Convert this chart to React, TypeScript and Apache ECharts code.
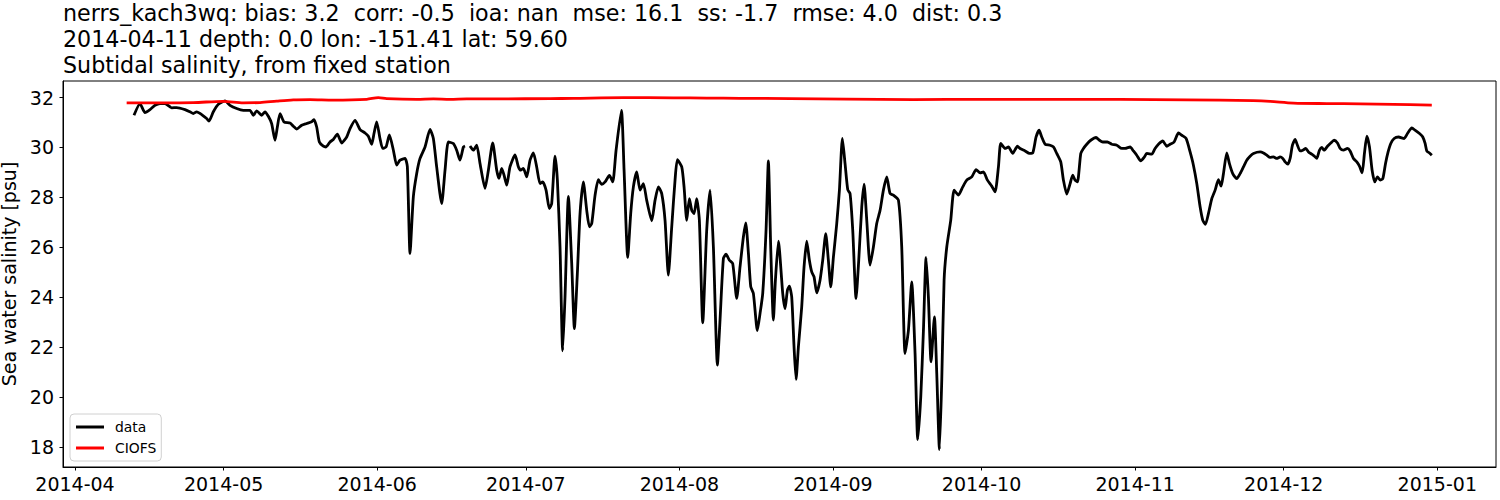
import React, { useEffect, useRef } from "react";
import * as echarts from "echarts";

const TITLE_LINES = [
  "nerrs_kach3wq: bias: 3.2  corr: -0.5  ioa: nan  mse: 16.1  ss: -1.7  rmse: 4.0  dist: 0.3",
  "2014-04-11 depth: 0.0 lon: -151.41 lat: 59.60",
  "Subtidal salinity, from fixed station",
];

const Y_LABEL = "Sea water salinity [psu]";
const X_TICK_LABELS = [
  "2014-04", "2014-05", "2014-06", "2014-07", "2014-08",
  "2014-09", "2014-10", "2014-11", "2014-12", "2015-01",
];
const Y_TICKS = [18, 20, 22, 24, 26, 28, 30, 32];

// days since 2014-04-01, salinity (null = gap)
const OBS_DATA: [number, number | null][] = [
  [11.91, 31.29], [13.12, 31.76], [14.13, 31.4], [15.14, 31.52], [16.15, 31.69], [17.16, 31.76],
  [18.17, 31.76], [19.52, 31.59], [20.52, 31.6], [22.21, 31.52], [23.22, 31.43], [23.89, 31.36],
  [24.56, 31.43], [25.57, 31.32], [26.58, 31.16], [27.05, 31.06], [27.93, 31.43], [28.94, 31.73],
  [30.28, 31.87], [31.29, 31.69], [32.64, 31.56], [33.98, 31.49], [35.33, 31.49], [36.0, 31.29],
  [36.68, 31.47], [37.69, 31.29], [38.36, 31.43], [39.03, 31.25], [39.7, 30.96], [40.38, 30.29],
  [40.85, 30.82], [41.39, 31.36], [42.19, 31.02], [43.4, 30.98], [44.08, 30.85], [44.75, 30.74],
  [45.76, 30.89], [46.77, 30.96], [47.78, 31.03], [48.25, 31.12], [48.79, 30.82], [49.33, 30.22],
  [50.13, 30.05], [50.67, 30.02], [51.48, 30.22], [52.15, 30.32], [52.96, 30.53], [53.84, 30.18],
  [54.85, 30.42], [55.52, 30.76], [56.53, 31.09], [57.54, 30.72], [58.55, 30.58], [59.22, 30.45],
  [59.89, 30.13], [60.36, 30.56], [60.9, 31.03], [61.57, 30.36], [62.11, 29.96], [62.79, 30.02],
  [63.46, 30.5], [64.27, 29.89], [64.94, 29.29], [65.61, 29.49], [66.62, 29.56], [67.09, 29.23],
  [67.63, 25.75], [68.3, 28.02], [68.98, 28.96], [69.65, 29.56], [70.66, 30.02], [71.67, 30.72],
  [72.34, 30.36], [73.01, 29.22], [74.02, 27.75], [74.7, 29.09], [75.37, 30.22], [76.38, 30.16],
  [77.05, 29.89], [77.72, 29.49], [78.4, 30.02], [78.73, 30.06], [79.2, null], [79.74, 30.06],
  [80.42, 29.89], [81.09, 30.09], [81.76, 29.36], [82.77, 28.36], [83.45, 29.09], [84.32, 30.18],
  [85.13, 29.09], [85.6, 28.76], [86.14, 29.16], [86.61, 28.89], [87.15, 28.49], [87.82, 29.23],
  [88.83, 29.7], [89.5, 29.23], [89.97, 29.09], [90.51, 29.16], [91.18, 28.82], [91.86, 29.49],
  [92.53, 29.78], [93.2, 29.22], [93.88, 28.55], [94.41, 28.62], [95.09, 28.29], [95.76, 27.55],
  [96.23, 27.75], [96.9, 29.65], [97.38, 28.68], [97.91, 26.01], [98.45, 21.85], [98.92, 24.01],
  [99.6, 28.04], [100.27, 25.35], [100.81, 22.74], [101.41, 24.95], [101.95, 27.35], [102.62, 28.62],
  [103.3, 27.48], [103.84, 26.82], [104.31, 26.95], [104.98, 28.08], [105.65, 28.71], [106.33, 28.52],
  [107.0, 28.62], [107.88, 28.88], [108.55, 28.62], [109.22, 29.88], [110.3, 31.49], [110.84, 29.09],
  [111.58, 25.59], [112.18, 27.35], [112.72, 28.42], [113.39, 29.02], [114.07, 28.29], [114.74, 28.55],
  [115.41, 27.88], [116.42, 27.06], [117.09, 27.88], [117.77, 28.42], [118.44, 28.15], [119.11, 27.08],
  [119.78, 24.88], [120.46, 26.82], [121.13, 28.69], [121.6, 29.51], [122.48, 29.22], [122.95, 28.42],
  [123.49, 27.08], [124.02, 27.95], [124.5, 27.48], [124.97, 27.35], [125.5, 27.95], [126.04, 27.08],
  [126.72, 22.97], [127.52, 26.68], [128.2, 28.29], [128.87, 26.01], [129.68, 21.28], [130.21, 23.08],
  [130.89, 25.55], [131.43, 25.72], [132.1, 25.48], [132.77, 25.35], [133.58, 23.95], [134.25, 25.22],
  [134.93, 26.42], [135.4, 26.98], [135.94, 25.75], [136.41, 24.42], [136.94, 24.15], [137.75, 22.66],
  [138.29, 23.35], [138.83, 24.15], [139.5, 26.68], [139.97, 29.46], [140.44, 26.01], [140.98, 23.08],
  [141.39, 24.68], [142.0, 26.24], [142.87, 24.14], [143.34, 23.54], [143.81, 24.28], [144.21, 24.44],
  [144.68, 24.01], [145.15, 22.01], [145.56, 20.7], [146.03, 22.01], [146.7, 23.61], [147.17, 25.21],
  [147.71, 26.24], [148.25, 25.48], [148.72, 25.01], [149.19, 24.81], [149.73, 24.17], [150.4, 24.68],
  [150.94, 25.48], [151.55, 26.55], [152.08, 25.48], [152.56, 24.41], [153.1, 25.61], [153.77, 26.95],
  [154.31, 28.29], [154.91, 30.36], [155.45, 29.35], [155.99, 28.31], [156.46, 28.15], [157.0, 26.68],
  [157.67, 23.94], [158.21, 25.48], [158.82, 27.62], [159.29, 28.53], [159.83, 27.08], [160.5, 25.28],
  [161.17, 26.01], [161.84, 26.95], [162.52, 27.48], [163.19, 28.29], [163.86, 28.82], [164.54, 28.15],
  [165.21, 28.09], [166.22, 27.89], [166.89, 26.01], [167.56, 21.74], [168.24, 22.67], [168.91, 24.61],
  [169.58, 21.74], [170.12, 18.29], [170.73, 20.0], [171.27, 22.67], [171.8, 25.59], [172.27, 24.01],
  [172.81, 21.41], [173.49, 23.21], [173.96, 20.94], [174.5, 17.89], [174.97, 20.67], [175.44, 24.68],
  [175.98, 26.01], [176.78, 27.08], [177.46, 28.29], [178.33, 28.09], [179.21, 28.42], [180.01, 28.69],
  [181.02, 28.82], [181.9, 29.11], [182.71, 28.98], [183.38, 29.02], [184.19, 28.69], [185.06, 28.45],
  [185.73, 28.22], [186.41, 29.22], [186.88, 30.16], [187.75, 29.96], [188.43, 30.02], [189.3, 29.76],
  [190.24, 30.05], [190.78, 29.96], [191.79, 29.86], [192.67, 29.76], [193.34, 29.78], [194.01, 30.42],
  [194.62, 30.69], [195.15, 30.42], [195.83, 30.13], [196.84, 30.09], [197.51, 30.02], [198.18, 29.76],
  [198.99, 29.42], [199.53, 28.69], [200.2, 28.13], [200.88, 28.55], [201.41, 28.89], [201.88, 28.69],
  [202.36, 28.62], [203.03, 29.76], [203.57, 29.96], [204.24, 30.13], [205.05, 30.29], [206.12, 30.4],
  [206.8, 30.29], [207.47, 30.22], [208.41, 30.22], [209.29, 30.13], [210.3, 30.09], [211.31, 29.96],
  [211.98, 29.96], [212.99, 30.02], [213.66, 29.86], [214.33, 29.69], [215.14, 29.46], [215.81, 29.6],
  [216.35, 29.76], [217.36, 29.73], [218.03, 29.96], [218.71, 30.13], [219.58, 30.26], [220.39, 30.05],
  [221.06, 30.13], [221.87, 30.22], [222.75, 30.58], [223.42, 30.49], [224.29, 30.36], [225.1, 29.82],
  [225.77, 29.29], [226.45, 28.55], [227.12, 27.62], [227.66, 27.08], [228.2, 26.92], [228.8, 27.35],
  [229.48, 27.95], [230.15, 28.29], [230.82, 28.71], [231.36, 28.45], [231.83, 28.95], [232.5, 29.78],
  [233.04, 29.35], [233.71, 28.95], [234.52, 28.75], [235.19, 28.95], [235.87, 29.22], [236.54, 29.49],
  [237.21, 29.65], [237.89, 29.76], [239.23, 29.82], [239.91, 29.78], [240.58, 29.69], [241.25, 29.6],
  [241.93, 29.62], [242.6, 29.56], [243.27, 29.62], [243.81, 29.56], [244.28, 29.42], [244.82, 29.33],
  [245.29, 29.56], [245.76, 30.09], [246.3, 30.32], [246.77, 30.09], [247.31, 29.86], [247.85, 29.89],
  [248.45, 29.96], [248.99, 29.82], [249.66, 29.73], [250.2, 29.65], [250.67, 29.56], [251.21, 29.89],
  [251.68, 30.0], [252.15, 29.89], [252.83, 30.05], [253.5, 30.18], [254.17, 30.29], [254.85, 30.18],
  [255.38, 29.96], [256.06, 29.89], [256.86, 29.96], [257.4, 29.86], [258.08, 29.56], [258.75, 29.42],
  [259.29, 29.25], [259.83, 28.98], [260.3, 29.78], [260.77, 30.45], [261.31, 30.02], [261.84, 29.09],
  [262.38, 28.62], [262.92, 28.82], [263.46, 28.69], [264.0, 28.75], [264.54, 29.35], [265.07, 29.82],
  [265.61, 30.16], [266.29, 30.36], [267.16, 30.42], [268.31, 30.36], [268.98, 30.56], [269.86, 30.78],
  [270.53, 30.69], [271.41, 30.56], [272.07, 30.42], [272.54, 30.16], [272.88, 29.86], [273.42, 29.78],
  [273.89, 29.69],
];

const MODEL_DATA: [number, number][] = [
  [10.43, 31.79], [17.16, 31.79], [23.89, 31.8], [29.95, 31.85], [33.98, 31.79], [37.35, 31.8],
  [40.71, 31.86], [44.08, 31.91], [47.44, 31.92], [52.15, 31.9], [58.88, 31.93], [61.24, 32.0],
  [62.92, 31.96], [68.98, 31.93], [72.34, 31.95], [75.71, 31.93], [79.07, 31.95], [85.8, 31.95],
  [95.9, 31.96], [100.61, 31.97], [110.7, 32.0], [120.79, 31.99], [127.52, 31.98], [134.25, 31.97],
  [144.35, 31.96], [155.79, 31.94], [169.25, 31.92], [182.71, 31.93], [192.8, 31.93], [204.24, 31.93],
  [217.7, 31.92], [231.16, 31.9], [237.89, 31.88], [241.25, 31.85], [245.97, 31.78], [252.69, 31.76],
  [259.42, 31.75], [266.15, 31.73], [273.89, 31.7],
];

const DAY = 86400000;
const BASE = Date.UTC(2014, 3, 1);
const toTs = (d: number) => BASE + d * DAY;
const FONT = "DejaVu Sans";

export default function App() {
  const ref = useRef<HTMLDivElement>(null);
  useEffect(() => {
    document.body.style.margin = "0";
    if (!ref.current) return;
    const chart = echarts.init(ref.current, undefined, { renderer: "svg" });
    const tickTs = X_TICK_LABELS.map((l) => {
      const [y, m] = l.split("-").map(Number);
      return Date.UTC(y, m - 1, 1);
    });
    const fmtX = (v: number) => {
      let best = 0;
      for (let i = 1; i < tickTs.length; i++) {
        if (Math.abs(tickTs[i] - v) < Math.abs(tickTs[best] - v)) best = i;
      }
      return X_TICK_LABELS[best];
    };
    chart.setOption({
      animation: false,
      backgroundColor: "#fff",
      title: {
        text: TITLE_LINES.join("\n"),
        left: 63,
        top: 0,
        padding: 0,
        textStyle: {
          fontFamily: FONT,
          fontSize: 22.2,
          fontWeight: "normal",
          color: "#000",
          lineHeight: 26,
        },
      },
      legend: {
        data: ["data", "CIOFS"],
        orient: "vertical",
        left: 70,
        top: 414,
        icon: "rect",
        itemWidth: 28,
        itemHeight: 3,
        itemGap: 5,
        padding: [5, 5, 5, 6],
        backgroundColor: "#fff",
        borderColor: "#d0d0d0",
        borderWidth: 1,
        borderRadius: 4,
        textStyle: { fontFamily: FONT, fontSize: 13.9, color: "#000", padding: [0, 0, 0, 6], lineHeight: 16 },
      },
      grid: {
        left: 63,
        right: 4,
        top: 81,
        bottom: 33,
        show: true,
        borderColor: "#000",
        borderWidth: 1,
        backgroundColor: "transparent",
        outerBoundsMode: "none",
        containLabel: false,
      },
      xAxis: {
        type: "value",
        min: toTs(-2.42),
        max: toTs(286.85),
        axisLine: { lineStyle: { color: "#000", width: 1 } },
        axisTick: { show: true, length: 3.5, lineStyle: { color: "#000" }, customValues: tickTs },
        axisLabel: {
          customValues: tickTs,
          formatter: fmtX,
          margin: 7,
          fontFamily: FONT,
          fontSize: 19,
          color: "#000",
        },
        splitLine: { show: false },
      },
      yAxis: {
        type: "value",
        min: 17.19,
        max: 32.665,
        name: Y_LABEL,
        nameLocation: "middle",
        nameRotate: 90,
        nameGap: 38,
        nameTextStyle: { fontFamily: FONT, fontSize: 19, color: "#000", lineHeight: 20 },
        axisLine: { show: true, lineStyle: { color: "#000", width: 1 } },
        axisTick: { show: true, length: 3.5, lineStyle: { color: "#000" }, customValues: Y_TICKS },
        axisLabel: {
          customValues: Y_TICKS,
          margin: 9,
          fontFamily: FONT,
          fontSize: 19,
          color: "#000",
        },
        splitLine: { show: false },
      },
      series: [
        {
          name: "data",
          type: "line",
          data: OBS_DATA.map(([d, v]) => [toTs(d), v]),
          showSymbol: false,
          symbol: "none",
          smooth: 0.2,
          connectNulls: false,
          lineStyle: { color: "#000", width: 2.8 },
          itemStyle: { color: "#000" },
          z: 2,
        },
        {
          name: "CIOFS",
          type: "line",
          data: MODEL_DATA.map(([d, v]) => [toTs(d), v]),
          showSymbol: false,
          symbol: "none",
          smooth: 0.3,
          lineStyle: { color: "#ff0000", width: 2.8 },
          itemStyle: { color: "#ff0000" },
          z: 3,
        },
      ],
    });
    return () => chart.dispose();
  }, []);
  return (
    <div
      ref={ref}
      style={{ position: "fixed", left: 0, top: 0, width: 1500, height: 500 }}
    />
  );
}
